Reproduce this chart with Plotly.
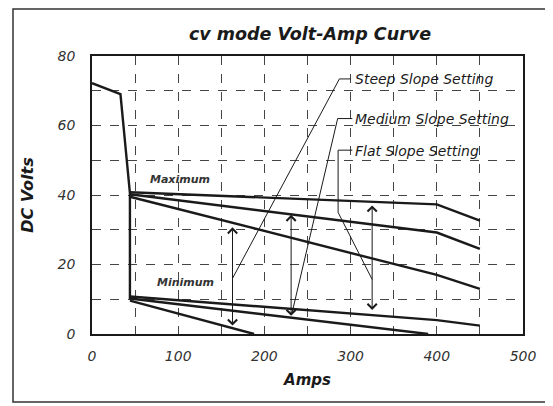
import plotly.graph_objects as go

# ---- data ----
oc_amps = [0, 33, 44, 44]
oc_volts = [72.2, 69.0, 40.5, 10.0]

max_amps = [44, 400, 450]
max_flat_volts = [40.8, 37.3, 32.6]
max_medium_volts = [40.2, 29.2, 24.5]
max_steep_volts = [39.5, 17.0, 13.0]

min_flat_amps = [44, 400, 450]
min_flat_volts = [10.8, 4.0, 2.4]
min_medium_amps = [44, 390]
min_medium_volts = [10.2, 0.0]
min_steep_amps = [44, 188]
min_steep_volts = [9.6, 0.0]

arrow_amps = [163, 231, 325]
arrow_low = [2.0, 4.8, 6.5]
arrow_high = [30.7, 34.3, 37.0]

steep_leader_amps = [300, 287, 163]
steep_leader_volts = [73.4, 73.4, 16.0]
medium_leader_amps = [302, 285, 232]
medium_leader_volts = [62.0, 62.0, 6.0]
flat_leader_amps = [302, 285.5, 285.5, 325]
flat_leader_volts = [52.9, 52.9, 35.0, 15.7]

setting_labels = ["Steep Slope Setting", "Medium Slope Setting", "Flat Slope Setting"]
setting_label_amps = [303, 303, 303]
setting_label_volts = [73.4, 62.0, 52.6]

x_ticks = [0, 100, 200, 300, 400, 500]
y_ticks = [0, 20, 40, 60, 80]

FONT = "DejaVu Sans, Liberation Sans, Arial, sans-serif"
INK = "#1a1a1a"

# page body has an 8px margin: lay the figure out in reference coords minus 8
OFF = 8
W, H = 553 - OFF, 406 - OFF
PL, PR, PT, PB = 92, 523, 56, 334  # plot area in reference pixels

fig = go.Figure()

def line(x, y, w):
    fig.add_trace(go.Scatter(x=x, y=y, mode="lines",
                             line=dict(color=INK, width=w),
                             hoverinfo="skip", showlegend=False))

line(oc_amps, oc_volts, 2.4)
for v in (max_flat_volts, max_medium_volts, max_steep_volts):
    line(max_amps, v, 2.4)
line(min_flat_amps, min_flat_volts, 2.4)
line(min_medium_amps, min_medium_volts, 2.4)
line(min_steep_amps, min_steep_volts, 2.4)

line(steep_leader_amps, steep_leader_volts, 1)
line(medium_leader_amps, medium_leader_volts, 1)
line(flat_leader_amps, flat_leader_volts, 1)

annotations = []
for a, lo, hi in zip(arrow_amps, arrow_low, arrow_high):
    annotations.append(dict(x=a, y=hi, ax=a, ay=lo, xref="x", yref="y",
                            axref="x", ayref="y", text="", showarrow=True,
                            arrowside="end+start", arrowhead=4, startarrowhead=4,
                            arrowsize=1.8, startarrowsize=1.8,
                            arrowwidth=1, arrowcolor=INK))

for t, a, v in zip(setting_labels, setting_label_amps, setting_label_volts):
    annotations.append(dict(x=a, y=v, xref="x", yref="y", text="<i>" + t + "</i>",
                            showarrow=False, xanchor="left", yanchor="middle",
                            font=dict(family=FONT, size=14, color=INK)))

annotations.append(dict(x=102, y=44.6, xref="x", yref="y", text="<b><i>Maximum</i></b>",
                        showarrow=False, font=dict(family=FONT, size=11, color="#333")))
annotations.append(dict(x=108, y=14.9, xref="x", yref="y", text="<b><i>Minimum</i></b>",
                        showarrow=False, font=dict(family=FONT, size=11, color="#333")))

grid = dict(showgrid=True, gridcolor="#444", griddash="dash", gridwidth=1)
pw, ph = PR - PL, PB - PT

fig.update_layout(
    width=W, height=H,
    margin=dict(l=PL - OFF, r=W - (PR - OFF), t=PT - OFF, b=H - (PB - OFF)),
    paper_bgcolor="white", plot_bgcolor="white",
    font=dict(family=FONT, color=INK),
    title=dict(text="<b><i>cv mode Volt-Amp Curve</i></b>", x=(310 - OFF) / W, xref="container",
               xanchor="center", y=1 - (34 - OFF) / H, yref="container", yanchor="middle",
               font=dict(family=FONT, size=17.5, color=INK)),
    annotations=annotations,
    shapes=[dict(type="rect", xref="paper", yref="paper",
                 x0=(13 - PL) / pw, x1=(546 - PL) / pw,
                 y0=(PB - 402) / ph, y1=(PB - 9) / ph,
                 line=dict(color="#333", width=1.5), layer="below")],
)

fig.update_xaxes(range=[0, 500], tickvals=x_ticks, ticktext=["<i>%d</i>" % t for t in x_ticks],
                 ticks="", ticklabelstandoff=8,
                 tickfont=dict(family=FONT, size=14, color="#333"),
                 showline=True, linecolor=INK, linewidth=1.5, mirror=True,
                 zeroline=False, **grid,
                 minor=dict(dtick=50, tick0=0, showgrid=True, gridcolor="#444",
                            griddash="dash", gridwidth=1),
                 title=dict(text="<b><i>Amps</i></b>", standoff=12,
                            font=dict(family=FONT, size=15, color=INK)))
fig.update_yaxes(range=[0, 80], tickvals=y_ticks, ticktext=["<i>%d</i>" % t for t in y_ticks],
                 ticks="", ticklabelstandoff=12,
                 tickfont=dict(family=FONT, size=14, color="#333"),
                 showline=True, linecolor=INK, linewidth=1.5, mirror=True,
                 zeroline=False, **grid,
                 minor=dict(dtick=10, tick0=0, showgrid=True, gridcolor="#444",
                            griddash="dash", gridwidth=1),
                 title=dict(text="<b><i>DC Volts</i></b>", standoff=20,
                            font=dict(family=FONT, size=16, color=INK)))

fig.write_html("out.html")
